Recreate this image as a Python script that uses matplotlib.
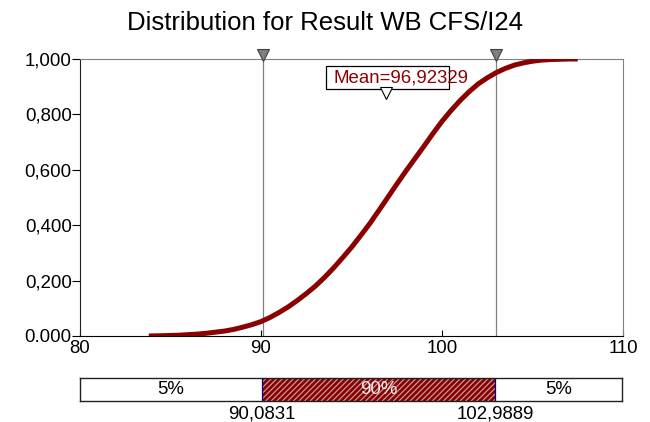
import matplotlib
matplotlib.use("Agg")
import matplotlib.pyplot as plt
from matplotlib.patches import Rectangle
from matplotlib.lines import Line2D
import matplotlib.transforms as mtransforms

plt.rcParams['font.family'] = ['Liberation Sans', 'DejaVu Sans']
plt.rcParams['hatch.linewidth'] = 0.8

# Data
cdf_x = [83.8, 84.5, 85, 85.5, 86, 86.5, 87, 87.5, 88, 88.5, 89, 89.5, 90,
         90.5, 91, 91.5, 92, 92.5, 93, 93.5, 94, 94.5, 95, 95.5, 96, 96.5,
         97, 97.5, 98, 98.5, 99, 99.5, 100, 100.5, 101, 101.5, 102, 102.5,
         103, 103.5, 104, 104.5, 105, 105.5, 106, 106.5, 107, 107.5]
cdf_y = [0.000, 0.001, 0.002, 0.003, 0.005, 0.007, 0.010, 0.014, 0.018, 0.024,
         0.032, 0.041, 0.052, 0.067, 0.085, 0.105, 0.128, 0.153, 0.180, 0.211,
         0.245, 0.282, 0.320, 0.362, 0.405, 0.452, 0.500, 0.548, 0.595, 0.640,
         0.685, 0.731, 0.775, 0.814, 0.850, 0.882, 0.910, 0.932, 0.951, 0.966,
         0.978, 0.986, 0.992, 0.996, 0.998, 0.999, 1.000, 1.000]
mean_val = 96.92329
lo_val = 90.0831
hi_val = 102.9889
x_ticks = [80, 90, 100, 110]
y_ticks = [0.0, 0.2, 0.4, 0.6, 0.8, 1.0]
y_tick_labels = ['0.000', '0,200', '0,400', '0,600', '0,800', '1,000']
band_labels = ['5%', '90%', '5%']

dark_red = '#8B0000'
W, H = 650, 422

fig = plt.figure(figsize=(6.5, 4.22), dpi=100)
ax = fig.add_axes([80/W, 1-336/H, 543/W, 277/H])

ax.plot(cdf_x, cdf_y, color=dark_red, lw=3.6, solid_capstyle='butt',
        solid_joinstyle='round', zorder=3)
ax.set_xlim(80, 110)
ax.set_ylim(0, 1)

up = mtransforms.offset_copy(ax.transData, fig=fig, x=0, y=4, units='dots')
for v in (lo_val, hi_val):
    ax.axvline(v, color='#808080', lw=0.9, zorder=2)
    ax.plot([v], [1.0], marker='v', markersize=8, color='#808080',
            markeredgecolor='#404040', markeredgewidth=0.8, transform=up,
            clip_on=False, zorder=5)
ax.spines['top'].set_color('#808080')
ax.spines['right'].set_color('#808080')
ax.spines['left'].set_color('#202020')
ax.spines['bottom'].set_color('black')

ax.set_xticks(x_ticks)
ax.set_xticklabels([str(t) for t in x_ticks], fontsize=13.4)
ax.set_yticks(y_ticks)
ax.set_yticklabels(y_tick_labels, fontsize=13.4)
ax.tick_params(axis='x', direction='in', length=4, pad=3)
ax.tick_params(axis='y', direction='out', length=6, pad=0)

# Mean label box (text overflows the box as in the reference)
fig.patches.append(Rectangle((326/W, 1-89/H), 123/W, 23/H, transform=fig.transFigure,
                             facecolor='white', edgecolor='black', lw=0.9,
                             zorder=6))
fig.text(333/W, 1-78/H, 'Mean=96,92329', color=dark_red, fontsize=13.4,
         ha='left', va='center', zorder=7)
mean_tr = mtransforms.blended_transform_factory(ax.transData, fig.transFigure)
tri = Line2D([mean_val], [1-93/H], marker='v', markersize=9, color='white',
             markeredgecolor='black', markeredgewidth=0.8, linestyle='none',
             transform=mean_tr, zorder=8)
fig.add_artist(tri)

fig.text(0.5, 1-23/H, 'Distribution for Result WB CFS/I24', fontsize=18.5,
         ha='center', va='center')

# Range band
bx = fig.add_axes([80/W, 1-401/H, 542/W, 23/H])
bx.set_xlim(80, 110)
bx.set_ylim(0, 1)
bx.axvspan(lo_val, hi_val, facecolor=dark_red, edgecolor='#c8a8a8',
           hatch='//////', lw=0)
bx.axvline(lo_val, color='#000080', lw=0.9)
bx.axvline(hi_val, color='#000080', lw=0.9)
bx.set_xticks([])
bx.set_yticks([])
for s in bx.spines.values():
    s.set_color('#202020')
    s.set_linewidth(1.0)
bx.text((80 + lo_val)/2, 0.5, band_labels[0], ha='center', va='center', fontsize=13.4)
bx.text((lo_val + hi_val)/2, 0.5, band_labels[1], ha='center', va='center',
        fontsize=13.4, color='#f0f0f0')
bx.text((hi_val + 110)/2, 0.5, band_labels[2], ha='center', va='center', fontsize=13.4)
bx.text(lo_val, -0.2, '90,0831', ha='center', va='top', fontsize=13.4)
bx.text(hi_val, -0.2, '102,9889', ha='center', va='top', fontsize=13.4)

fig.savefig('out.png', dpi=100)
